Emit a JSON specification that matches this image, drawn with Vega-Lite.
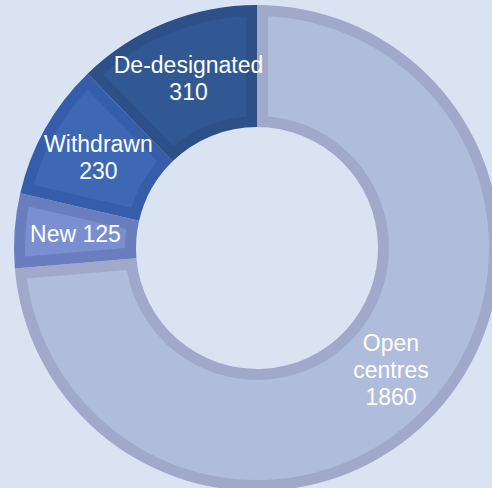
{
  "$schema": "https://vega.github.io/schema/vega-lite/v6.json",
  "width": 470,
  "height": 480,
  "autosize": {"type": "none"},
  "padding": {"left": 22, "top": 8, "right": 0, "bottom": 0},
  "background": "#dae3f2",
  "config": {"view": {"stroke": null}},
  "data": {
    "values": [
      {"cat": "Open centres", "value": 1860, "idx": 1, "label": "Open\ncentres\n1860", "lines": 3},
      {"cat": "New", "value": 125, "idx": 2, "label": "New 125", "lines": 1},
      {"cat": "Withdrawn", "value": 230, "idx": 3, "label": "Withdrawn\n230", "lines": 2},
      {"cat": "De-designated", "value": 310, "idx": 4, "label": "De-designated\n310", "lines": 2}
    ]
  },
  "layer": [
    {
      "mark": {"type": "arc", "radius": 243, "radius2": 121},
      "encoding": {
        "theta": {"field": "value", "type": "quantitative", "stack": true},
        "order": {"field": "idx", "type": "quantitative"},
        "color": {
          "field": "cat", "type": "nominal", "legend": null,
          "scale": {"domain": ["Open centres", "New", "Withdrawn", "De-designated"], "range": ["#a0a9c9", "#6a7dbf", "#355da9", "#2d5088"]}
        }
      }
    },
    {
      "mark": {"type": "arc", "radius": 232, "radius2": 132, "padAngle": 0.0824},
      "encoding": {
        "theta": {"field": "value", "type": "quantitative", "stack": true},
        "order": {"field": "idx", "type": "quantitative"},
        "color": {
          "field": "cat", "type": "nominal", "legend": null,
          "scale": {"domain": ["Open centres", "New", "Withdrawn", "De-designated"], "range": ["#b0bcdc", "#7a8fd0", "#3e68b4", "#325894"]}
        }
      }
    },
    {
      "mark": {"type": "text", "radius": 182, "dy": -27, "font": "Liberation Sans", "fontSize": 23, "lineHeight": 27, "color": "#ffffff", "align": "center", "baseline": "middle", "lineBreak": "\n"},
      "encoding": {
        "theta": {"field": "value", "type": "quantitative", "stack": true},
        "order": {"field": "idx", "type": "quantitative"},
        "text": {"condition": {"test": "datum.lines == 3", "field": "label"}, "value": ""}
      }
    },
    {
      "mark": {"type": "text", "radius": 182, "dy": -13.5, "font": "Liberation Sans", "fontSize": 23, "lineHeight": 27, "color": "#ffffff", "align": "center", "baseline": "middle", "lineBreak": "\n"},
      "encoding": {
        "theta": {"field": "value", "type": "quantitative", "stack": true},
        "order": {"field": "idx", "type": "quantitative"},
        "text": {"condition": {"test": "datum.lines == 2", "field": "label"}, "value": ""}
      }
    },
    {
      "mark": {"type": "text", "radius": 182, "font": "Liberation Sans", "fontSize": 23, "lineHeight": 27, "color": "#ffffff", "align": "center", "baseline": "middle", "lineBreak": "\n"},
      "encoding": {
        "theta": {"field": "value", "type": "quantitative", "stack": true},
        "order": {"field": "idx", "type": "quantitative"},
        "text": {"condition": {"test": "datum.lines == 1", "field": "label"}, "value": ""}
      }
    }
  ],
  "resolve": {"scale": {"color": "independent"}}
}
